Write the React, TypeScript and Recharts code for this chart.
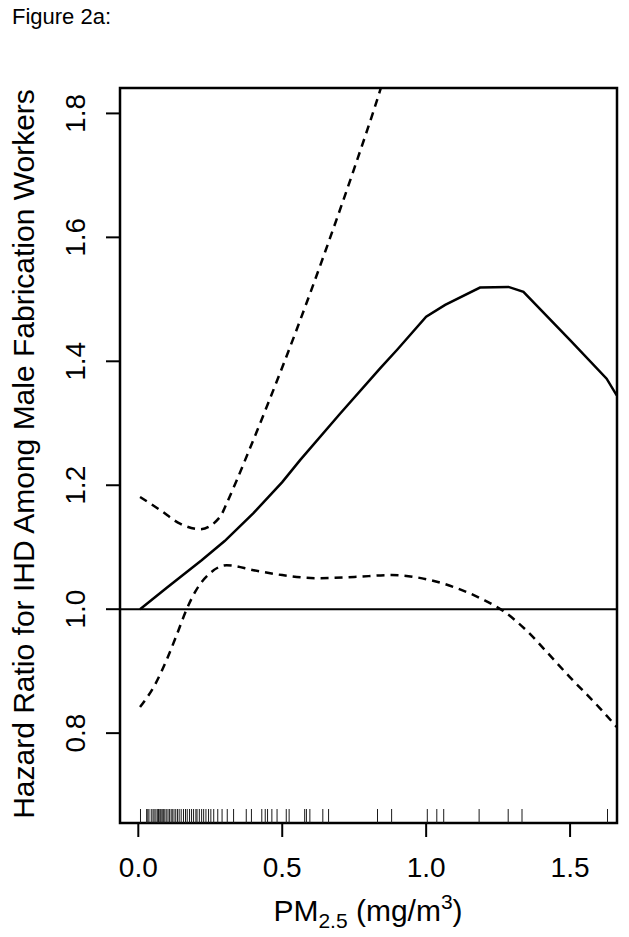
import React from "react";
import { ComposedChart, Line, XAxis, YAxis, ReferenceLine, ReferenceArea, Scatter } from "recharts";

const FONT = "'Liberation Sans', Arial, Helvetica, sans-serif";

// fitted hazard ratio (solid)
const hrX = [0.006, 0.1, 0.22, 0.3, 0.4, 0.5, 0.562, 0.7, 0.84, 0.9, 1.0, 1.066, 1.187, 1.286, 1.338, 1.5, 1.627, 1.662];
const hrY = [1.0, 1.035, 1.079, 1.11, 1.155, 1.205, 1.2405, 1.315, 1.3885, 1.419, 1.472, 1.491, 1.519, 1.52, 1.512, 1.434, 1.372, 1.345];

// upper 95% band (dashed)
const upX = [0.006, 0.076, 0.145, 0.214, 0.284, 0.307, 0.342, 0.371, 0.45, 0.55, 0.65, 0.75, 0.84, 0.9];
const upY = [1.181, 1.16, 1.138, 1.129, 1.149, 1.171, 1.208, 1.2405, 1.331, 1.451, 1.578, 1.711, 1.837, 1.93];

// lower 95% band (dashed)
const loX = [0.006, 0.06, 0.1, 0.133, 0.168, 0.2, 0.249, 0.307, 0.4, 0.5, 0.62, 0.75, 0.88, 1.014, 1.1, 1.2, 1.268, 1.35, 1.419, 1.5, 1.604, 1.662];
const loY = [0.842, 0.88, 0.92, 0.958, 1.0, 1.03, 1.058, 1.071, 1.063, 1.055, 1.05, 1.052, 1.055, 1.047, 1.035, 1.015, 0.997, 0.965, 0.931, 0.89, 0.84, 0.81];

// rug of observed exposures
const rug = [
  0.0076, 0.029, 0.033, 0.037, 0.045, 0.051, 0.055, 0.061, 0.066, 0.07, 0.072, 0.076, 0.079, 0.083,
  0.087, 0.092, 0.097, 0.103, 0.108, 0.114, 0.118, 0.124, 0.13, 0.136, 0.142, 0.149, 0.157, 0.164,
  0.17, 0.178, 0.185, 0.192, 0.2, 0.204, 0.212, 0.22, 0.227, 0.235, 0.244, 0.252, 0.262, 0.276,
  0.291, 0.309, 0.331, 0.375, 0.393, 0.429, 0.441, 0.449, 0.464, 0.482, 0.514, 0.524, 0.578, 0.584,
  0.596, 0.641, 0.661, 0.831, 0.88, 1.004, 1.037, 1.061, 1.184, 1.285, 1.333, 1.63,
];

const xTicks = [0, 0.5, 1.0, 1.5];
const yTicks = [0.8, 1.0, 1.2, 1.4, 1.6, 1.8];
const xDomain = [-0.0636, 1.663];
const yDomain = [0.655, 1.841];

const zip = (xs: number[], ys: number[]) => xs.map((x, i) => ({ x, y: ys[i] }));
const hrData = zip(hrX, hrY);
const upData = zip(upX, upY);
const loData = zip(loX, loY);
const rugData = rug.map(x => ({ x, y: yDomain[0] }));

const YTick = ({ x, y, payload }: any) => (
  <text x={x} y={y} transform={`rotate(-90 ${x} ${y})`} textAnchor="middle" fontSize={28} fontFamily={FONT} fill="#000">
    {Number(payload.value).toFixed(1)}
  </text>
);

const YLabel = () => (
  <text x={34} y={454} transform="rotate(-90 34 454)" textAnchor="middle" fontSize={30} fontFamily={FONT} fill="#000">
    Hazard Ratio for IHD Among Male Fabrication Workers
  </text>
);

const XLabel = () => (
  <text x={368} y={921} textAnchor="middle" fontSize={30} fontFamily={FONT} fill="#000">
    PM<tspan fontSize={21} dy={7}>2.5</tspan>
    <tspan dy={-7}> (mg/m</tspan>
    <tspan fontSize={21} dy={-12}>3</tspan>
    <tspan dy={12}>)</tspan>
  </text>
);

const RugMark = (p: any) => (
  <line x1={p.cx} x2={p.cx} y1={p.cy} y2={p.cy - 14} stroke="#1a1a1a" strokeWidth={1} />
);

export default function App() {
  return (
    <div style={{ position: "absolute", left: 0, top: 0, width: 629, height: 937, background: "#fff" }}>
      <div style={{ position: "absolute", left: 12, top: 4, fontFamily: FONT, fontSize: 22, color: "#000" }}>
        Figure 2a:
      </div>
      <ComposedChart width={629} height={937} margin={{ top: 88, right: 12, left: 0, bottom: 0 }}>
        <XAxis
          type="number"
          dataKey="x"
          domain={xDomain}
          ticks={xTicks}
          allowDataOverflow
          height={114}
          axisLine={false}
          tickSize={14}
          tickMargin={20}
          tickLine={{ stroke: "#000", strokeWidth: 2 }}
          tick={{ fontSize: 28, fontFamily: FONT, fill: "#000" }}
          tickFormatter={(v: number) => v.toFixed(1)}
          label={<XLabel />}
        />
        <YAxis
          type="number"
          dataKey="y"
          domain={yDomain}
          ticks={yTicks}
          allowDataOverflow
          width={120}
          axisLine={false}
          tickSize={14}
          tickMargin={21}
          tickLine={{ stroke: "#000", strokeWidth: 2 }}
          tick={<YTick />}
          label={<YLabel />}
        />
        <ReferenceArea x1={xDomain[0]} x2={xDomain[1]} y1={yDomain[0]} y2={yDomain[1]} fill="none" stroke="#000" strokeWidth={2.5} ifOverflow="visible" />
        <ReferenceLine y={1} stroke="#000" strokeWidth={2} />
        <Scatter data={rugData} shape={<RugMark />} isAnimationActive={false} />
        <Line data={hrData} dataKey="y" type="linear" stroke="#000" strokeWidth={2.5} dot={false} isAnimationActive={false} />
        <Line data={upData} dataKey="y" type="monotone" stroke="#000" strokeWidth={2.5} strokeDasharray="8 6" dot={false} isAnimationActive={false} />
        <Line data={loData} dataKey="y" type="monotone" stroke="#000" strokeWidth={2.5} strokeDasharray="8 6" dot={false} isAnimationActive={false} />
      </ComposedChart>
    </div>
  );
}
